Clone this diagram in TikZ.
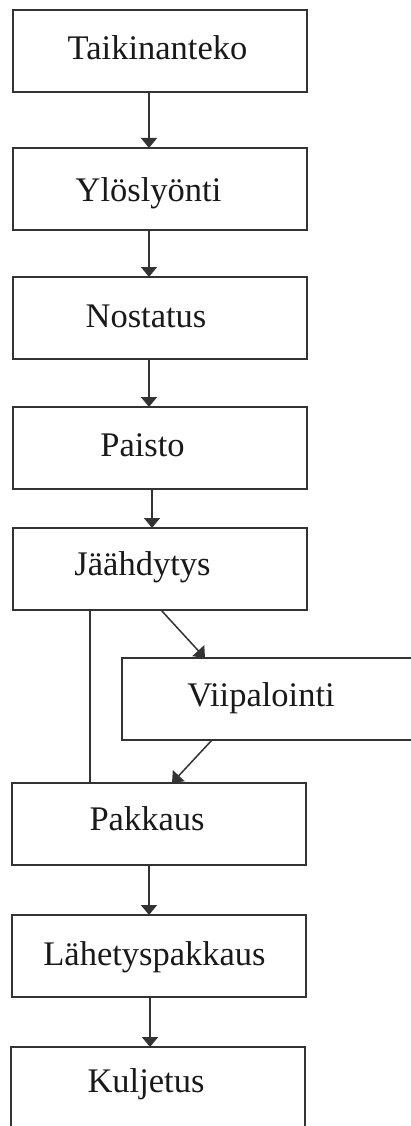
\documentclass[tikz,border=0pt]{standalone}
\usepackage{fontspec}
\setmainfont{Liberation Serif}
\usetikzlibrary{arrows.meta}
\begin{document}
\begin{tikzpicture}[x=1pt,y=-1pt,
  box/.style={draw=black!80, line width=2pt, minimum width=294pt, minimum height=82pt, inner sep=0pt, outer sep=0pt, anchor=north west},
  lbl/.style={font=\fontsize{34.5}{40}\selectfont, anchor=base, inner sep=0pt, text=black!90},
  arr/.style={draw=black!80, line width=1.5pt, -{Triangle[width=16pt,length=10pt]}},
  ln/.style={draw=black!80, line width=1.5pt}]
\useasboundingbox (0,0) rectangle (411,1126);
\clip (0,0) rectangle (411,1126);
\fill[white] (0,0) rectangle (411,1126);
% boxes
\node[box] (b1) at (13,10) {};
\node[box] (b2) at (13,148) {};
\node[box] (b3) at (13,277) {};
\node[box] (b4) at (13,407) {};
\node[box] (b5) at (13,528) {};
\node[box, minimum width=320pt] (bv) at (122,658) {};
\node[box] (b6) at (12,783) {};
\node[box] (b7) at (12,915) {};
\node[box, minimum height=95pt] (b8) at (11,1047) {};
% labels
\node[lbl] (t1) at ([xshift=-2.5pt,yshift=-9pt]b1.center) {Taikinanteko};
\node[lbl] (t2) at ([xshift=-11.5pt,yshift=-12pt]b2.center) {Ylöslyönti};
\node[lbl] (t3) at ([xshift=-14pt,yshift=-9.5pt]b3.center) {Nostatus};
\node[lbl] (t4) at ([xshift=-17.5pt,yshift=-8pt]b4.center) {Paisto};
\node[lbl] (t5) at ([xshift=-17.5pt,yshift=-6.5pt]b5.center) {Jäähdytys};
\node[lbl] (tv) at ([xshift=-21pt,yshift=-7.5pt]bv.center) {Viipalointi};
\node[lbl] (t6) at ([xshift=-12pt,yshift=-6pt]b6.center) {Pakkaus};
\node[lbl] (t7) at ([xshift=-4.5pt,yshift=-9pt]b7.center) {Lähetyspakkaus};
\node[lbl] (t8) at ([xshift=-12pt,yshift=2pt]b8.center) {Kuljetus};
% connectors
\draw[arr] ([xshift=-11pt]b1.south) -- ([xshift=-11pt]b2.north);
\draw[arr] ([xshift=-11pt]b2.south) -- ([xshift=-11pt]b3.north);
\draw[arr] ([xshift=-11pt]b3.south) -- ([xshift=-11pt]b4.north);
\draw[arr] ([xshift=-8pt]b4.south) -- ([xshift=-8pt]b5.north);
\draw[arr] ([xshift=1pt]b5.south) -- ([xshift=-77pt]bv.north);
\draw[arr] ([xshift=-70pt]bv.south) -- ([xshift=13pt]b6.north);
\draw[ln] ([xshift=-70pt]b5.south) -- ([xshift=-69pt]b6.north);
\draw[arr] ([xshift=-10pt]b6.south) -- ([xshift=-10pt]b7.north);
\draw[arr] ([xshift=-9pt]b7.south) -- ([xshift=-8pt]b8.north);
\end{tikzpicture}
\end{document}
